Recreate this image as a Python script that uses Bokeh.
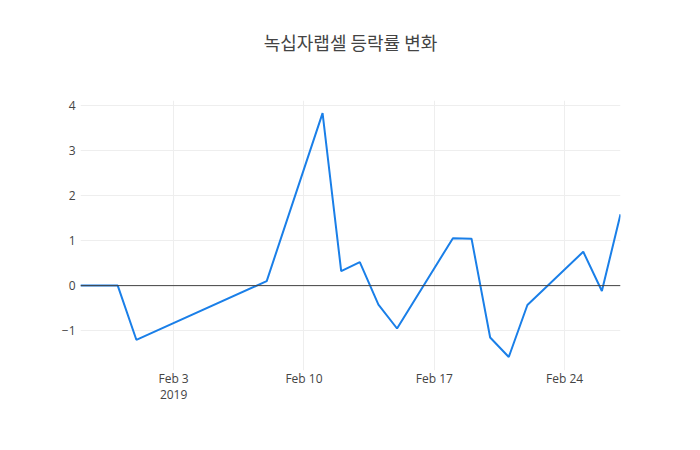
import pandas as pd
from bokeh.plotting import figure
from bokeh.models import (ColumnDataSource, FixedTicker, DaysTicker, CustomJSTickFormatter,
                          Span, Title)
from bokeh.embed import file_html
from bokeh.resources import INLINE

# daily change rate (%) of the green-cell ETF
dates = ["2019-01-29", "2019-01-30", "2019-01-31", "2019-02-01", "2019-02-08",
         "2019-02-11", "2019-02-12", "2019-02-13", "2019-02-14", "2019-02-15",
         "2019-02-18", "2019-02-19", "2019-02-20", "2019-02-21", "2019-02-22",
         "2019-02-25", "2019-02-26", "2019-02-27"]
change = [0.0, 0.0, 0.0, -1.2, 0.1,
          3.82, 0.32, 0.52, -0.42, -0.95,
          1.05, 1.04, -1.15, -1.58, -0.43,
          0.75, -0.12, 1.58]
y_ticks = [-1, 0, 1, 2, 3, 4]

source = ColumnDataSource(data=dict(date=pd.to_datetime(dates), change=change))

FONT = "Open Sans"
GREY = "#444444"

p = figure(width=684, height=434, x_axis_type="datetime",
           x_range=(pd.Timestamp("2019-01-29"), pd.Timestamp("2019-02-27")),
           y_range=(-1.88, 4.1),
           output_backend="svg", toolbar_location=None,
           min_border_left=80, min_border_right=64,
           min_border_top=100, min_border_bottom=64)
p.outline_line_color = None

# trailing empty line lifts the title higher above the plot area
title = Title(text="녹십자랩셀 등락률 변화\n", align="center",
              text_font="Noto Sans CJK KR", text_font_size="18px",
              text_font_style="normal", text_color=GREY, standoff=40)
p.add_layout(title, "above")

p.line("date", "change", source=source, line_color="#1A7FE8", line_width=2)

zero = Span(location=0, dimension="width", line_color=GREY, line_width=1)
p.add_layout(zero)

p.xaxis.ticker = DaysTicker(days=[3, 10, 17, 24])
p.xaxis.formatter = CustomJSTickFormatter(code="""
    const d = new Date(tick);
    const m = ["Jan","Feb","Mar","Apr","May","Jun","Jul","Aug","Sep","Oct","Nov","Dec"][d.getUTCMonth()];
    let s = m + " " + d.getUTCDate();
    if (index == 0) { s += "\\n" + d.getUTCFullYear(); }
    return s;
""")
p.yaxis.ticker = FixedTicker(ticks=y_ticks)
p.yaxis.formatter = CustomJSTickFormatter(code="return String(tick).replace('-', '\u2212');")

for ax in (p.xaxis, p.yaxis):
    ax.axis_line_color = None
    ax.major_tick_line_color = None
    ax.minor_tick_line_color = None
    ax.major_label_text_font = FONT
    ax.major_label_text_font_size = "12px"
    ax.major_label_text_color = GREY
p.xaxis.major_label_standoff = -7
p.xaxis.major_label_text_line_height = 0.95
p.yaxis.major_label_standoff = -1

p.xgrid.grid_line_color = "#eeeeee"
p.ygrid.grid_line_color = "#eeeeee"

open("out.html", "w").write(file_html(p, INLINE))
